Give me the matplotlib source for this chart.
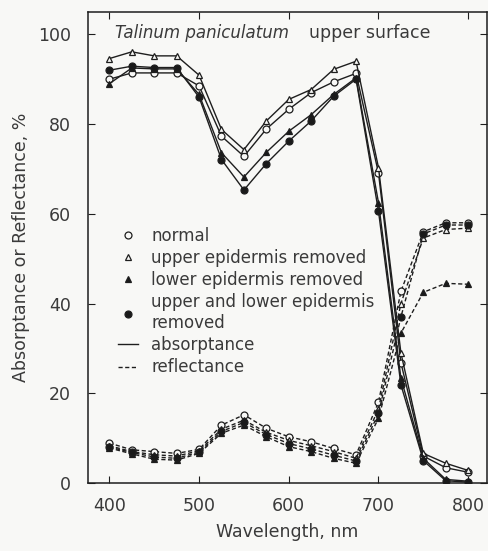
import matplotlib
matplotlib.use('Agg')
import matplotlib.pyplot as plt
from matplotlib.lines import Line2D

# Data
wavelength = [400, 425, 450, 475, 500, 525, 550, 575, 600, 625, 650, 675, 700, 725, 750, 775, 800]

abs_normal = [90.0, 91.4, 91.4, 91.4, 88.5, 77.3, 72.8, 78.9, 83.3, 87.0, 89.4, 91.3, 69.1, 26.8, 6.0, 3.4, 2.4]
abs_upper = [94.6, 96.1, 95.2, 95.2, 90.9, 78.8, 74.3, 80.7, 85.5, 87.7, 92.2, 94.0, 70.3, 29.0, 6.6, 4.4, 2.8]
abs_lower = [89.0, 92.5, 92.3, 92.3, 86.6, 73.6, 68.2, 73.7, 78.4, 82.1, 86.6, 90.3, 62.5, 23.4, 5.5, 0.8, 0.4]
abs_both = [92.0, 92.9, 92.6, 92.6, 86.0, 72.1, 65.3, 71.2, 76.2, 80.7, 86.2, 90.0, 60.6, 21.9, 5.0, 0.5, 0.2]

ref_normal = [8.9, 7.4, 7.0, 6.6, 7.5, 12.9, 15.2, 12.2, 10.3, 9.2, 7.7, 6.3, 18.0, 42.7, 56.0, 58.0, 58.0]
ref_upper = [8.3, 7.0, 6.3, 6.0, 7.2, 12.0, 14.0, 11.3, 9.5, 8.3, 7.0, 5.5, 16.5, 40.0, 54.6, 56.5, 56.8]
ref_lower = [7.8, 6.5, 5.3, 5.1, 6.6, 11.1, 12.9, 10.3, 8.1, 7.0, 5.5, 4.4, 14.4, 33.4, 42.5, 44.5, 44.3]
ref_both = [8.0, 6.8, 5.8, 5.5, 6.9, 11.5, 13.5, 10.8, 8.8, 7.6, 6.2, 4.9, 15.5, 37.0, 55.5, 57.5, 57.5]

labels = ['normal', 'upper epidermis removed', 'lower epidermis removed',
          'upper and lower epidermis\nremoved']
markers = ['o', '^', '^', 'o']
fills = ['#f8f8f6', '#f8f8f6', '#1a1a1a', '#1a1a1a']

ink = '#1e1e1e'
txt = '#3a3a3a'
bg = '#f8f8f6'
dash = (0, (3, 1.8))

fig = plt.figure(figsize=(4.88, 5.51), dpi=100, facecolor=bg)
ax = fig.add_axes([0.180, 0.1234, 0.818, 0.855], facecolor=bg)

abs_series = [abs_normal, abs_upper, abs_lower, abs_both]
ref_series = [ref_normal, ref_upper, ref_lower, ref_both]
for i in range(4):
    ax.plot(wavelength, abs_series[i], color=ink, lw=1.0, marker=markers[i],
            ms=5, mfc=fills[i], mec=ink, mew=0.9, zorder=3)
    ax.plot(wavelength, ref_series[i], color=ink, lw=1.0, ls=dash, marker=markers[i],
            ms=5, mfc=fills[i], mec=ink, mew=0.9, zorder=3)

ax.set_xlim(376, 821)
ax.set_ylim(0, 105)
ax.set_xticks([400, 500, 600, 700, 800])
ax.set_yticks([0, 20, 40, 60, 80, 100])
ax.tick_params(direction='in', length=5, width=0.8, color=ink, labelcolor=txt,
               labelsize=12.5, top=True, right=True)
ax.tick_params(axis='x', pad=10)
ax.tick_params(axis='y', pad=12)
for s in ax.spines.values():
    s.set_color(ink)
    s.set_linewidth(1.1)

ax.set_xlabel('Wavelength, nm', fontsize=12.5, color=txt, labelpad=6)
ax.set_ylabel('Absorptance or Reflectance, %', fontsize=12.5, color=txt, labelpad=6)

# title inside plot
ax.text(0.068, 0.955, 'Talinum paniculatum', transform=ax.transAxes, fontsize=12,
        style='italic', color=txt, va='center', ha='left')
ax.text(0.555, 0.955, 'upper surface', transform=ax.transAxes, fontsize=12.5,
        color=txt, va='center', ha='left')

handles = []
for i in range(4):
    handles.append(Line2D([], [], ls='none', marker=markers[i], ms=5, mfc=fills[i],
                          mec=ink, mew=0.9))
handles.append(Line2D([], [], color=ink, lw=1.0))
handles.append(Line2D([], [], color=ink, lw=1.0, ls=dash))
leg = ax.legend(handles, labels + ['absorptance', 'reflectance'], loc='upper left',
                bbox_to_anchor=(0.05, 0.565), frameon=False, fontsize=12,
                handlelength=1.2, handletextpad=0.8, labelspacing=0.25,
                borderaxespad=0.2)
for t in leg.get_texts():
    t.set_color(txt)

fig.savefig('out.png', dpi=100, facecolor=bg)
